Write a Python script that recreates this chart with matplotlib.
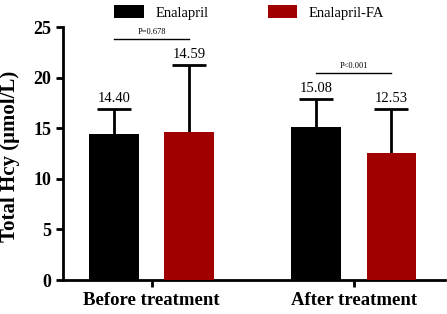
import numpy as np
import matplotlib.pyplot as plt

plt.rcParams['font.family'] = ['Liberation Serif', 'DejaVu Serif']

groups = ['Before treatment', 'After treatment']
series = ['Enalapril', 'Enalapril-FA']
means_ena = [14.40, 15.08]
means_fa = [14.59, 12.53]
sd_ena = [2.5, 2.8]
sd_fa = [6.7, 4.4]
colors = ['#000000', '#a00000']
p_texts = ['P=0.678', 'P<0.001']
p_heights = [23.8, 20.5]

x = np.arange(len(groups))
w = 0.246
off = 0.187

fig = plt.figure(figsize=(4.47, 3.14), dpi=100)
ax = fig.add_axes([0.141, 0.108, 0.855, 0.806])

for vals, sds, c, sgn, lab in [(means_ena, sd_ena, colors[0], -1, series[0]),
                               (means_fa, sd_fa, colors[1], 1, series[1])]:
    xs = x + sgn * off
    ax.bar(xs, vals, w, color=c, label=lab, zorder=3)
    eb = ax.errorbar(xs, vals, yerr=[np.zeros(len(vals)), sds], fmt='none',
                     ecolor='black', elinewidth=2, capsize=12, capthick=2, zorder=2)
    eb[1][0].remove()   # no lower caps
    for xi, v, s in zip(xs, vals, sds):
        ax.text(xi, v + s + 0.4, f'{v:.2f}', ha='center', va='bottom', fontsize=10.5)

# significance lines
for xi, t, h in zip(x, p_texts, p_heights):
    ax.plot([xi - off, xi + off], [h, h], color='black', lw=1)
    ax.text(xi, h + 0.3, t, ha='center', va='bottom', fontsize=6)

ax.set_xlim(-0.438, 1.453)
ax.set_ylim(0, 25)
ax.set_yticks([0, 5, 10, 15, 20, 25])
ax.set_xticks(x)
ax.set_xticklabels(groups, fontsize=13.5, fontweight='bold')
for lbl in ax.get_yticklabels():
    lbl.set_fontsize(13)
    lbl.set_fontweight('bold')
ax.set_ylabel('Total Hcy (μmol/L)', fontsize=15, fontweight='bold')
ax.yaxis.set_label_coords(-0.113, 0.488)

for s in ['top', 'right']:
    ax.spines[s].set_visible(False)
for s in ['left', 'bottom']:
    ax.spines[s].set_linewidth(2)
ax.tick_params(width=2, length=5)

fig.legend(loc='upper center', ncol=2, frameon=False, bbox_to_anchor=(0.558, 1.025),
           fontsize=10.5, handlelength=2.0, handleheight=1.0, columnspacing=4.1)

plt.savefig('out.png', dpi=100)
